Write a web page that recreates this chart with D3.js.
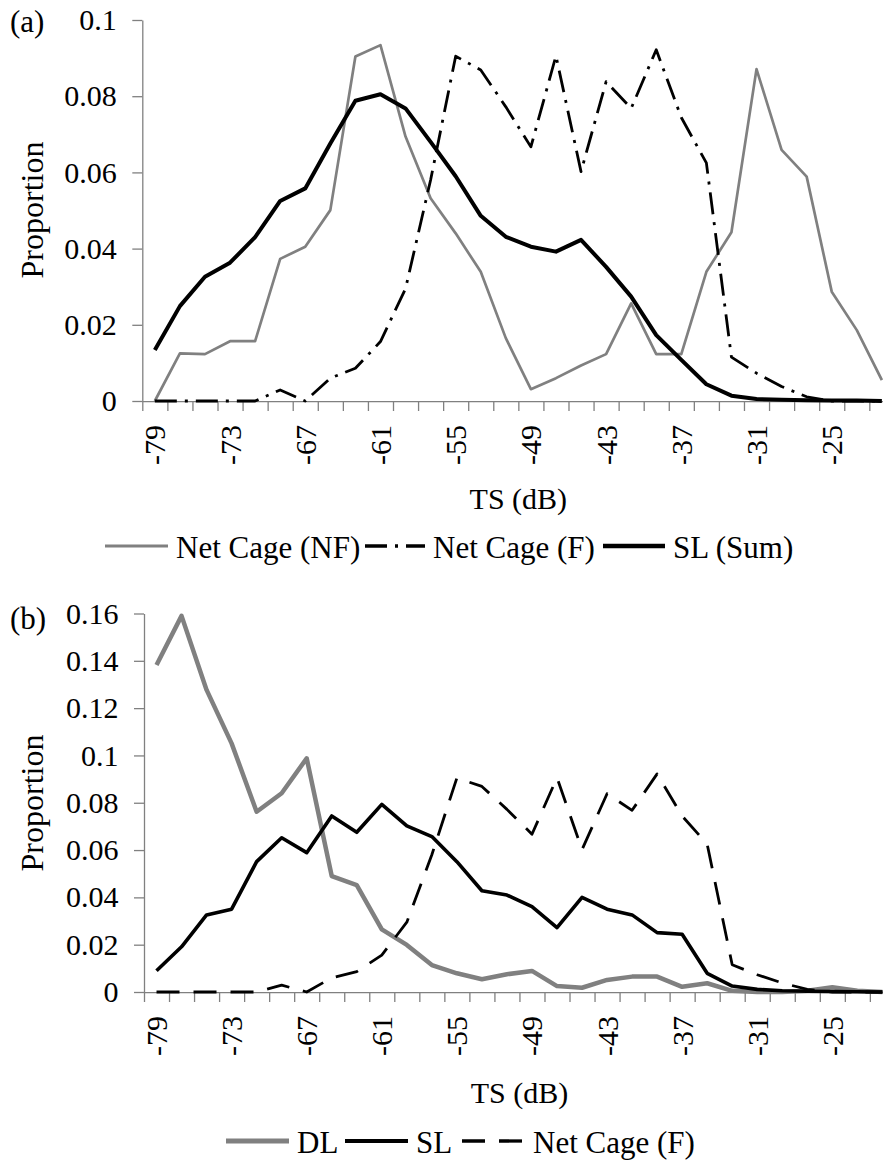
<!DOCTYPE html>
<html><head><meta charset="utf-8">
<script src="https://cdn.jsdelivr.net/npm/d3@7"></script>
<style>html,body{margin:0;padding:0;background:#fff} svg text{font-family:'Liberation Serif','Times New Roman',serif;}</style>
</head><body>
<script>
// ---- data ----
const categories = [-79,-77,-75,-73,-71,-69,-67,-65,-63,-61,-59,-57,-55,-53,-51,-49,-47,-45,-43,-41,-39,-37,-35,-33,-31,-29,-27,-25,-23,-21];
const xTickLabels = [-79,-73,-67,-61,-55,-49,-43,-37,-31,-25];
const yTicksA = [0,0.02,0.04,0.06,0.08,0.1];
const yTicksB = [0,0.02,0.04,0.06,0.08,0.1,0.12,0.14,0.16];
const netCageNF = [0,0.0125,0.0123,0.0157,0.0157,0.0373,0.0405,0.0501,0.0904,0.0934,0.0694,0.0532,0.044,0.0339,0.0165,0.0031,0.006,0.0093,0.0123,0.0256,0.0123,0.0123,0.0339,0.0443,0.0871,0.0659,0.0589,0.0287,0.0186,0.0055];
const netCageF = [0,0,0,0,0,0.0029,0,0.006,0.0086,0.0156,0.0295,0.058,0.0905,0.0869,0.0772,0.0667,0.0906,0.0602,0.0838,0.0768,0.0922,0.0744,0.0625,0.0115,0.0073,0.0038,0.0011,0,0,0];
const slSum = [0.0134,0.0249,0.0326,0.0363,0.043,0.0525,0.0558,0.0676,0.0788,0.0805,0.0768,0.068,0.059,0.0486,0.0431,0.0405,0.0392,0.0423,0.0352,0.0274,0.0173,0.0108,0.0044,0.0014,0.0005,0.0003,0.0002,0.0001,0.0001,0];
const dl = [0.1382,0.159,0.1277,0.1051,0.0762,0.084,0.0988,0.049,0.0452,0.0265,0.0199,0.0114,0.0079,0.0054,0.0075,0.0089,0.0025,0.0018,0.0051,0.0065,0.0065,0.0022,0.0037,0.0005,0,0,0.0005,0.002,0.0005,0];
const sl = [0.009,0.0191,0.0326,0.035,0.0551,0.0652,0.0589,0.0744,0.0675,0.0793,0.0702,0.0657,0.0551,0.0428,0.041,0.0361,0.0272,0.04,0.035,0.0326,0.0251,0.0244,0.0079,0.0025,0.0011,0.0005,0.0003,0.0002,0.0001,0];

const W = 888, H = 1163;
const FONT = "'Liberation Serif', 'Times New Roman', serif";
const GRAY = "#808080";
const svg = d3.select("body").append("svg").attr("width", W).attr("height", H)
  .style("font-family", FONT);
svg.append("defs").append("clipPath").attr("id","clip")
  .append("rect").attr("x",0).attr("y",0).attr("width",883).attr("height",H);

const styles = {
  nf:   {stroke: GRAY, width: 2.7, dash: null},
  fA:   {stroke: "#000", width: 2.8, dash: "22,8,3,8"},
  sum:  {stroke: "#000", width: 4, dash: null},
  dl:   {stroke: GRAY, width: 4.5, dash: null},
  sl:   {stroke: "#000", width: 3.6, dash: null},
  fB:   {stroke: "#000", width: 2.8, dash: "23,14"}
};

function txt(sel) { return sel.style("font-family", FONT).attr("fill", "#000"); }

function panel(cfg) {
  const n = categories.length;
  const x = d3.scaleLinear().domain([0, n]).range([cfg.x0, cfg.x0 + n * cfg.cw]);
  const y = d3.scaleLinear().domain([0, cfg.yMax]).range([cfg.y0, cfg.yTop]);
  const g = svg.append("g");

  const ya = g.append("g").attr("transform", `translate(${cfg.x0},0)`)
    .call(d3.axisLeft(y).tickValues(cfg.yTicks).tickSize(10).tickSizeOuter(0).tickPadding(15.6)
      .tickFormat(d => d === 0 ? "0" : String(+d.toFixed(2))));
  ya.attr("font-family", null).attr("font-size", 30);
  ya.select(".domain").attr("stroke", GRAY).attr("stroke-width", 1.3);
  ya.selectAll(".tick line").attr("stroke", GRAY).attr("stroke-width", 1.3);
  txt(ya.selectAll(".tick text"));

  const xa = g.append("g").attr("transform", `translate(0,${cfg.y0})`).attr("clip-path","url(#clip)")
    .call(d3.axisBottom(x).tickValues(d3.range(0, n + 1)).tickSize(10).tickSizeOuter(0).tickFormat(""));
  xa.select(".domain").attr("stroke", GRAY).attr("stroke-width", 1.3);
  xa.selectAll(".tick line").attr("stroke", GRAY).attr("stroke-width", 1.3);

  txt(g.selectAll(".xl").data(xTickLabels).enter().append("text")
    .attr("transform", d => `translate(${x(categories.indexOf(d) + 0.5)},${cfg.y0 + 24}) rotate(-90)`)
    .attr("text-anchor", "end").attr("dy", "0.35em").attr("font-size", 30).text(d => d));

  const line = d3.line().x((d, i) => x(i + 0.5)).y(d => y(d));
  const lg = g.append("g").attr("clip-path","url(#clip)");
  cfg.series.forEach(s => {
    const st = styles[s.style];
    lg.append("path").datum(s.values).attr("d", line).attr("fill", "none")
      .attr("stroke", st.stroke).attr("stroke-width", st.width)
      .attr("stroke-dasharray", st.dash).attr("stroke-linejoin", "round");
  });

  txt(g.append("text").attr("x", 10).attr("y", cfg.tagY).attr("font-size", 31).text(cfg.tag));
  txt(g.append("text").attr("transform", `translate(${cfg.ytX},${cfg.ytY}) rotate(-90)`)
    .attr("text-anchor", "middle").attr("font-size", 32).text("Proportion"));
  txt(g.append("text").attr("x", (x.range()[0] + x.range()[1]) / 2).attr("y", cfg.xtY)
    .attr("text-anchor", "middle").attr("font-size", 30).text("TS (dB)"));

  const leg = g.append("g");
  cfg.legend.forEach(it => {
    const st = styles[it.style];
    leg.append("line").attr("x1", it.lx1).attr("x2", it.lx2).attr("y1", cfg.legY).attr("y2", cfg.legY)
      .attr("stroke", st.stroke).attr("stroke-width", st.width + 0.5).attr("stroke-dasharray", st.dash);
    txt(leg.append("text").attr("x", it.tx).attr("y", cfg.legY + 12).attr("font-size", 31).text(it.label));
  });
}

panel({
  x0: 142.3, cw: 25.07, y0: 401, yTop: 20, yMax: 0.1, yTicks: yTicksA,
  tag: "(a)", tagY: 32, ytX: 43, ytY: 210, xtY: 509,
  series: [{values: netCageNF, style: "nf"}, {values: netCageF, style: "fA"}, {values: slSum, style: "sum"}],
  legY: 546,
  legend: [
    {label: "Net Cage (NF)", style: "nf", lx1: 105, lx2: 168, tx: 176},
    {label: "Net Cage (F)", style: "fA", lx1: 365, lx2: 425, tx: 433},
    {label: "SL (Sum)", style: "sum", lx1: 603, lx2: 665, tx: 673}
  ]
});

panel({
  x0: 144, cw: 25.03, y0: 992, yTop: 613.5, yMax: 0.16, yTicks: yTicksB,
  tag: "(b)", tagY: 629, ytX: 43, ytY: 803, xtY: 1103,
  series: [{values: dl, style: "dl"}, {values: sl, style: "sl"}, {values: netCageF, style: "fB"}],
  legY: 1141,
  legend: [
    {label: "DL", style: "dl", lx1: 226, lx2: 289, tx: 297},
    {label: "SL", style: "sl", lx1: 345, lx2: 408, tx: 416},
    {label: "Net Cage (F)", style: "fB", lx1: 462, lx2: 522, tx: 533}
  ]
});
</script>
</body></html>
